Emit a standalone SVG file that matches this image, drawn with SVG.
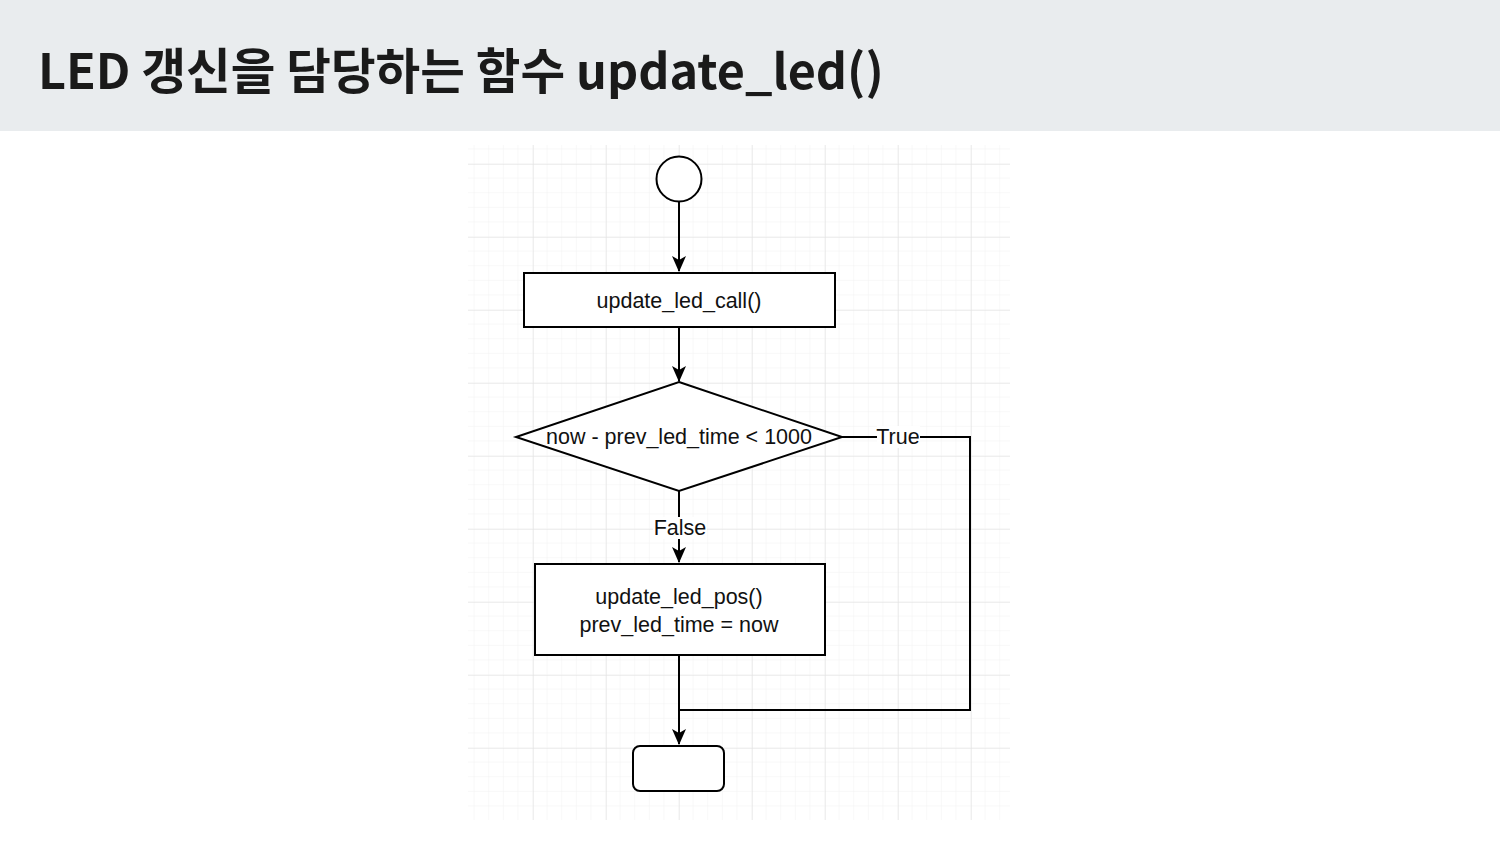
<svg xmlns="http://www.w3.org/2000/svg" width="1500" height="844" viewBox="0 0 1500 844">
<defs>
<pattern id="minor" x="533" y="164" width="14.6" height="14.6" patternUnits="userSpaceOnUse">
<path d="M14.6 0V14.6M0 14.6H14.6" fill="none" stroke="#f1f1f1" stroke-width="1"/>
</pattern>
<pattern id="major" x="533" y="164" width="73" height="73" patternUnits="userSpaceOnUse">
<path d="M0 0V73M0 0H73" fill="none" stroke="#e0e0e0" stroke-width="1"/>
</pattern>
<marker id="arr" viewBox="0 0 16 14" refX="15" refY="7" markerWidth="16" markerHeight="14" markerUnits="userSpaceOnUse" orient="auto">
<path d="M0 0L16 7L0 14L4 7Z" fill="#000"/>
</marker>
</defs>
<style>
.shape{fill:#fff;stroke:#000;stroke-width:2}
.lbl{font-family:"Liberation Sans",Arial,sans-serif;font-size:21.5px;fill:#111;text-anchor:middle}
.edge{fill:none;stroke:#000;stroke-width:2}
</style>
<rect width="1500" height="844" fill="#fff"/>
<rect x="0" y="0" width="1500" height="131" fill="#e9ecee"/>
<text x="38" y="89" font-family="'Noto Sans CJK KR','Noto Sans',sans-serif" font-weight="bold" font-size="48.5" fill="#1a1a1a">LED 갱신을 담당하는 함수 update_led()</text>
<g id="grid">
<rect x="468" y="145" width="542" height="675" fill="url(#minor)"/>
<rect x="468" y="145" width="542" height="675" fill="url(#major)"/>
</g>
<g id="connectors">
<path class="edge" d="M679 201V271" marker-end="url(#arr)"/>
<path class="edge" d="M679 327V381" marker-end="url(#arr)"/>
<path class="edge" d="M679 491V562" marker-end="url(#arr)"/>
<path class="edge" d="M842 437H970V710H679"/>
<path class="edge" d="M679 655V744" marker-end="url(#arr)"/>
<rect x="877" y="426" width="43" height="22" fill="#fff"/>
<text class="lbl" x="898" y="444">True</text>
<rect x="653" y="517" width="54" height="22" fill="#fff"/>
<text class="lbl" x="680" y="535">False</text>
</g>
<g id="start">
<circle class="shape" cx="679" cy="179" r="22.5"/>
</g>
<g id="call">
<rect class="shape" x="524" y="273" width="311" height="54"/>
<text class="lbl" x="679" y="308">update_led_call()</text>
</g>
<g id="decision">
<polygon class="shape" points="679,382 842,437 679,491 516,437"/>
<text class="lbl" x="679" y="444">now - prev_led_time &lt; 1000</text>
</g>
<g id="pos">
<rect class="shape" x="535" y="564" width="290" height="91"/>
<text class="lbl" x="679" y="604">update_led_pos()</text>
<text class="lbl" x="679" y="632">prev_led_time = now</text>
</g>
<g id="end">
<rect class="shape" x="633" y="746" width="91" height="45" rx="7"/>
</g>
</svg>
